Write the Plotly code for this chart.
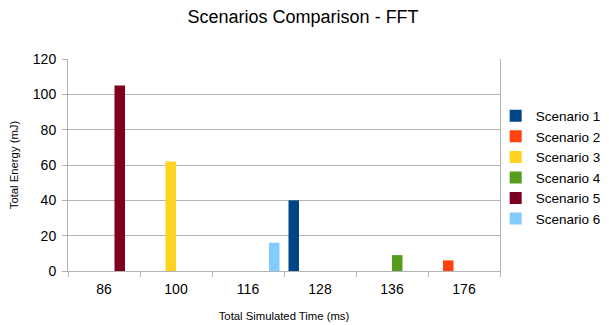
import plotly.graph_objects as go

categories = ["86", "100", "116", "128", "136", "176"]
series_names = ["Scenario 1", "Scenario 2", "Scenario 3", "Scenario 4", "Scenario 5", "Scenario 6"]
scenario_1 = [0, 0, 0, 40, 0, 0]
scenario_2 = [0, 0, 0, 0, 0, 6]
scenario_3 = [0, 62, 0, 0, 0, 0]
scenario_4 = [0, 0, 0, 0, 9, 0]
scenario_5 = [105, 0, 0, 0, 0, 0]
scenario_6 = [0, 0, 16, 0, 0, 0]
colors = ["#004586", "#ff420e", "#ffd320", "#579d1c", "#7e0021", "#83caff"]

series_values = [scenario_1, scenario_2, scenario_3, scenario_4, scenario_5, scenario_6]

fig = go.Figure()
for name, vals, c in zip(series_names, series_values, colors):
    fig.add_trace(go.Bar(x=categories, y=vals, name=name, marker=dict(color=c, line=dict(width=0))))

font_family = "Liberation Sans, Arial, sans-serif"
# page body has an 8px margin, so figure is offset by (8, 8) in the window
fig.update_layout(
    width=601, height=317,
    margin=dict(l=60, r=109, t=51, b=54, autoexpand=False),
    paper_bgcolor="white", plot_bgcolor="white",
    font=dict(family=font_family, color="#000000", size=14),
    title=dict(text="Scenarios Comparison - FFT", x=0.491, xanchor="center", y=0.994, yanchor="top",
               pad=dict(t=0, b=0), font=dict(size=18, family=font_family, color="#000")),
    barmode="group", bargap=0.125, bargroupgap=0,
    legend=dict(x=0.99, xanchor="left", y=0.488, yanchor="middle", font=dict(size=13.5),
                itemwidth=30, tracegroupgap=0, bgcolor="rgba(0,0,0,0)"),
    showlegend=True,
)
fig.update_xaxes(
    type="category", showline=True, linecolor="#b3b3b3", linewidth=1, automargin=False,
    ticks="outside", tickson="boundaries", ticklen=5, tickcolor="#b3b3b3",
    showgrid=False, tickfont=dict(size=14), ticklabelstandoff=5,
    title=dict(text="Total Simulated Time (ms)", font=dict(size=11.3), standoff=16),
)
fig.update_yaxes(
    range=[0, 120], dtick=20, showline=True, linecolor="#b3b3b3", linewidth=1, mirror=True,
    automargin=False,
    ticks="outside", ticklen=5, tickcolor="#b3b3b3", ticklabelstandoff=3,
    showgrid=True, gridcolor="#b3b3b3", gridwidth=1, zeroline=False,
    tickfont=dict(size=14),
    title=dict(text="Total Energy (mJ)", font=dict(size=11.3), standoff=16),
)

fig.write_html("out.html")
